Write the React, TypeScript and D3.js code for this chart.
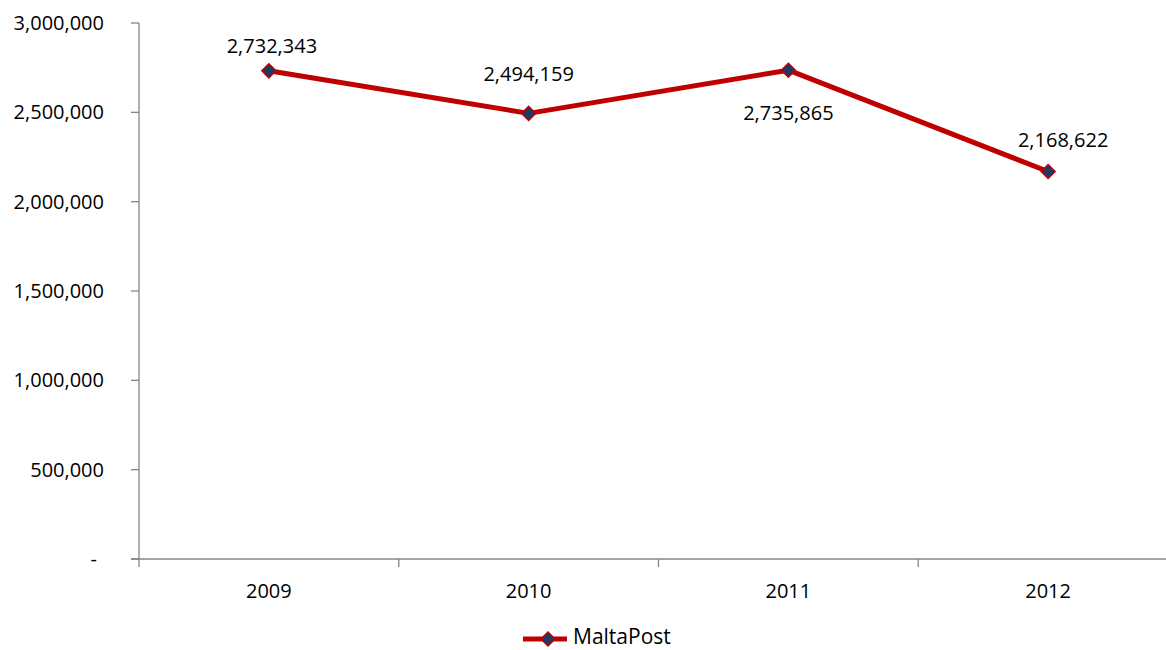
import React from "react";
import * as d3 from "d3";

// Yearly volumes for MaltaPost
const years = ["2009", "2010", "2011", "2012"];
const volumes = [2732343, 2494159, 2735865, 2168622];
const yTicks = [0, 500000, 1000000, 1500000, 2000000, 2500000, 3000000];
const seriesName = "MaltaPost";

// Manual data-label placement (offset from the point, to the text baseline centre)
const labelOffsets: [number, number][] = [
  [3, -18],
  [0, -32],
  [0, 50],
  [15, -25],
];

const W = 1166;
const H = 650;
const FONT = "'Open Sans', 'Liberation Sans', sans-serif";
const LINE = "#C00000";
const MARKER_FILL = "#1F3864";
const AXIS = "#868686";

const fmt = d3.format(",");

export default function App() {
  const x = d3.scaleBand<string>().domain(years).range([139, 1178]).padding(0);
  const y = d3.scaleLinear().domain([0, 3000000]).range([559, 23]);

  const pts = years.map((yr, i) => ({
    x: (x(yr) ?? 0) + x.bandwidth() / 2,
    y: y(volumes[i]),
    v: volumes[i],
  }));

  const line = d3
    .line<{ x: number; y: number }>()
    .x((d) => d.x)
    .y((d) => d.y);

  const diamond = (cx: number, cy: number, r: number) =>
    `M${cx},${cy - r}L${cx + r},${cy}L${cx},${cy + r}L${cx - r},${cy}Z`;

  const x0 = x.range()[0];
  const boundaries = years.map((yr) => x(yr) ?? 0).concat([x.range()[1]]);

  return (
    <svg
      width={W}
      height={H}
      style={{ position: "absolute", left: 0, top: 0, background: "#fff" }}
      fontFamily={FONT}
    >
      {/* Y axis */}
      <line x1={x0} x2={x0} y1={y(3000000)} y2={y(0)} stroke={AXIS} strokeWidth={1.3} />
      {yTicks.map((t) => (
        <g key={t}>
          <line x1={x0 - 8} x2={x0} y1={y(t)} y2={y(t)} stroke={AXIS} strokeWidth={1.3} />
          <text
            x={t === 0 ? 97 : 104}
            y={y(t)}
            dy="0.35em"
            textAnchor="end"
            fontSize={20}
            fill="#000"
          >
            {t === 0 ? "-" : fmt(t)}
          </text>
        </g>
      ))}

      {/* X axis */}
      <line x1={x0 - 8} x2={W} y1={y(0)} y2={y(0)} stroke={AXIS} strokeWidth={1.3} />
      {boundaries.map((b, i) => (
        <line key={i} x1={b} x2={b} y1={y(0)} y2={y(0) + 8} stroke={AXIS} strokeWidth={1.3} />
      ))}
      {years.map((yr) => (
        <text
          key={yr}
          x={(x(yr) ?? 0) + x.bandwidth() / 2}
          y={598}
          textAnchor="middle"
          fontSize={20}
          fill="#000"
        >
          {yr}
        </text>
      ))}

      {/* Series line */}
      <path d={line(pts) ?? ""} fill="none" stroke={LINE} strokeWidth={5} strokeLinejoin="round" />
      {pts.map((p, i) => (
        <path
          key={i}
          d={diamond(p.x, p.y, 7)}
          fill={MARKER_FILL}
          stroke={LINE}
          strokeWidth={1.5}
        />
      ))}

      {/* Data labels */}
      {pts.map((p, i) => (
        <text
          key={i}
          x={p.x + labelOffsets[i][0]}
          y={p.y + labelOffsets[i][1]}
          textAnchor="middle"
          fontSize={20}
          fill="#000"
        >
          {fmt(p.v)}
        </text>
      ))}

      {/* Legend */}
      <g transform="translate(523,639)">
        <line x1={0} x2={44} y1={0} y2={0} stroke={LINE} strokeWidth={5} />
        <path d={diamond(25, 0, 7)} fill={MARKER_FILL} stroke={LINE} strokeWidth={1.5} />
        <text x={50} y={5} dominantBaseline="alphabetic" fontSize={21} fill="#000">
          {seriesName}
        </text>
      </g>
    </svg>
  );
}
